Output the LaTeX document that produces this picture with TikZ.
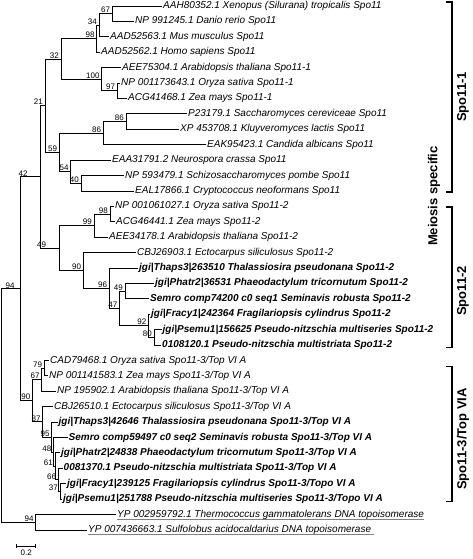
\documentclass[tikz,border=0pt]{standalone}
\usepackage{fontspec}
\setmainfont{Liberation Sans}
\usetikzlibrary{calc}

\tikzset{
  branch/.style={line width=0.8pt},
  leaf/.style={anchor=west, inner sep=1pt, font=\fontsize{10}{12}\selectfont\itshape},
  diatom/.style={leaf, font=\fontsize{10}{12}\selectfont\bfseries\itshape},
  boot/.style={anchor=south east, inner sep=0.5pt, xshift=-1.5pt, font=\fontsize{8}{9}\selectfont},
  clade/.style={rotate=90, inner sep=0pt, font=\fontsize{13}{15}\selectfont\bfseries},
  bracket/.style={line width=1.1pt},
}

\begin{document}
\begin{tikzpicture}[x=1pt, y=-1pt]
    \useasboundingbox (0,0) rectangle (473,559);

    % leaves
    \node[leaf] (l0) at (162, 6.00) {AAH80352.1 Xenopus (Silurana) tropicalis Spo11};
    \node[leaf] (l1) at (134, 21.41) {NP 991245.1 Danio rerio Spo11};
    \node[leaf] (l2) at (109, 36.82) {AAD52563.1 Mus musculus Spo11};
    \node[leaf] (l3) at (100, 52.23) {AAD52562.1 Homo sapiens Spo11};
    \node[leaf] (l4) at (121, 67.64) {AEE75304.1 Arabidopsis thaliana Spo11-1};
    \node[leaf] (l5) at (120, 83.05) {NP 001173643.1 Oryza sativa Spo11-1};
    \node[leaf] (l6) at (127, 98.46) {ACG41468.1 Zea mays Spo11-1};
    \node[leaf] (l7) at (187, 113.87) {P23179.1 Saccharomyces cereviceae Spo11};
    \node[leaf] (l8) at (179, 129.28) {XP 453708.1 Kluyveromyces lactis Spo11};
    \node[leaf] (l9) at (206, 144.69) {EAK95423.1 Candida albicans Spo11};
    \node[leaf] (l10) at (111, 160.10) {EAA31791.2 Neurospora crassa Spo11};
    \node[leaf] (l11) at (124, 175.51) {NP 593479.1 Schizosaccharomyces pombe Spo11};
    \node[leaf] (l12) at (134, 190.92) {EAL17866.1 Cryptococcus neoformans Spo11};
    \node[leaf] (l13) at (114, 206.33) {NP 001061027.1 Oryza sativa Spo11-2};
    \node[leaf] (l14) at (115, 221.74) {ACG46441.1 Zea mays Spo11-2};
    \node[leaf] (l15) at (108, 237.15) {AEE34178.1 Arabidopsis thaliana Spo11-2};
    \node[leaf] (l16) at (136, 252.56) {CBJ26903.1 Ectocarpus siliculosus Spo11-2};
    \node[diatom] (l17) at (138, 267.97) {jgi|Thaps3|263510 Thalassiosira pseudonana Spo11-2};
    \node[diatom] (l18) at (154, 283.38) {jgi|Phatr2|36531 Phaeodactylum tricornutum Spo11-2};
    \node[diatom] (l19) at (149, 298.79) {Semro comp74200 c0 seq1 Seminavis robusta Spo11-2};
    \node[diatom] (l20) at (150, 314.20) {jgi|Fracy1|242364 Fragilariopsis cylindrus Spo11-2};
    \node[diatom] (l21) at (161.5, 329.61) {jgi|Psemu1|156625 Pseudo-nitzschia multiseries Spo11-2};
    \node[diatom] (l22) at (161, 345.02) {0108120.1 Pseudo-nitzschia multistriata Spo11-2};
    \node[leaf] (l23) at (49, 360.43) {CAD79468.1 Oryza sativa Spo11-3/Top VI A};
    \node[leaf] (l24) at (48, 375.84) {NP 001141583.1 Zea mays Spo11-3/Top VI A};
    \node[leaf] (l25) at (56, 391.25) {NP 195902.1 Arabidopsis thaliana Spo11-3/Top VI A};
    \node[leaf] (l26) at (53, 406.66) {CBJ26510.1 Ectocarpus siliculosus Spo11-3/Top VI A};
    \node[diatom] (l27) at (57.5, 422.07) {jgi|Thaps3|42646 Thalassiosira pseudonana Spo11-3/Top VI A};
    \node[diatom] (l28) at (67.5, 437.48) {Semro comp59497 c0 seq2 Seminavis robusta Spo11-3/Top VI A};
    \node[diatom] (l29) at (60, 452.89) {jgi|Phatr2|24838 Phaeodactylum tricornutum Spo11-3/Top VI A};
    \node[diatom] (l30) at (62.5, 468.30) {0081370.1 Pseudo-nitzschia multistriata Spo11-3/Top VI A};
    \node[diatom] (l31) at (66, 483.71) {jgi|Fracy1|239125 Fragilariopsis cylindrus Spo11-3/Topo VI A};
    \node[diatom] (l32) at (62, 499.12) {jgi|Psemu1|251788 Pseudo-nitzschia multiseries Spo11-3/Topo VI A};
    \node[leaf] (l33) at (116, 514.53) {YP 002959792.1 Thermococcus gammatolerans DNA topoisomerase};
    \node[leaf] (l34) at (87, 529.94) {YP 007436663.1 Sulfolobus acidocaldarius DNA topoisomerase};

    % internal nodes
    \coordinate (root) at (1.5, 405.52);
    \coordinate (nA) at (20.7, 288.80);
    \coordinate (nO) at (35.7, 522.24);
    \coordinate (n42) at (40.7, 176.84);
    \coordinate (n21) at (45, 105.69);
    \coordinate (n32) at (61, 58.98);
    \coordinate (n98) at (96.7, 38.75);
    \coordinate (n34) at (99, 25.26);
    \coordinate (n67) at (112.3, 13.70);
    \coordinate (n100) at (101.7, 79.20);
    \coordinate (n97) at (117.3, 90.76);
    \coordinate (n59) at (59.3, 152.40);
    \coordinate (n86a) at (103.3, 133.13);
    \coordinate (n86b) at (126, 121.58);
    \coordinate (n54) at (70.7, 171.66);
    \coordinate (n40) at (81, 183.22);
    \coordinate (n49) at (59.3, 247.99);
    \coordinate (n99) at (94, 225.60);
    \coordinate (n98b) at (110, 214.04);
    \coordinate (n90b) at (83.3, 270.38);
    \coordinate (n96) at (109.3, 288.20);
    \coordinate (n47) at (119.5, 308.43);
    \coordinate (n49b) at (125, 291.09);
    \coordinate (n92) at (148.5, 325.76);
    \coordinate (n80) at (154, 337.32);
    \coordinate (n90c) at (32.5, 400.77);
    \coordinate (n67b) at (41.7, 379.70);
    \coordinate (n79) at (44.3, 368.14);
    \coordinate (n87) at (42.7, 421.83);
    \coordinate (n95) at (51.7, 437.00);
    \coordinate (n48) at (53.5, 451.93);
    \coordinate (n61) at (55, 466.38);
    \coordinate (n66) at (58.3, 479.86);
    \coordinate (n37) at (60, 491.42);

    % branches
    \foreach \p/\c in {root/nA, root/nO, nA/n42, nA/n90c, n42/n21, n42/n49,
        n21/n32, n21/n59, n32/n98, n32/n100, n98/n34, n98/l3.west,
        n34/n67, n34/l2.west, n67/l0.west, n67/l1.west,
        n100/l4.west, n100/n97, n97/l5.west, n97/l6.west,
        n59/n86a, n59/n54, n86a/n86b, n86a/l9.west, n86b/l7.west, n86b/l8.west,
        n54/l10.west, n54/n40, n40/l11.west, n40/l12.west,
        n49/n99, n49/n90b, n99/n98b, n99/l15.west, n98b/l13.west, n98b/l14.west,
        n90b/l16.west, n90b/n96, n96/l17.west, n96/n47,
        n47/n49b, n47/n92, n49b/l18.west, n49b/l19.west,
        n92/l20.west, n92/n80, n80/l21.west, n80/l22.west,
        n90c/n67b, n90c/n87, n67b/n79, n67b/l25.west, n79/l23.west, n79/l24.west,
        n87/l26.west, n87/n95, n95/l27.west, n95/n48, n48/l28.west, n48/n61,
        n61/l29.west, n61/n66, n66/l30.west, n66/n37, n37/l31.west, n37/l32.west,
        nO/l33.west, nO/l34.west}
        \draw[branch] (\p) |- (\c);

    % bootstrap values
    \foreach \n/\v in {nO/94, n90c/90, n21/21, n32/32, n98/98, n34/34, n67/67,
        n100/100, n97/97, n59/59, n86a/86, n86b/86, n54/54, n40/40,
        n99/99, n98b/98, n90b/90, n96/96, n47/47, n49b/49, n92/92, n80/80,
        n67b/67, n79/79, n87/87, n95/95, n48/48, n61/61, n66/66, n37/37}
        \node[boot] (b\n) at (\n) {\v};
    \node[boot, xshift=-4pt] (bnA) at (nA) {94};
    \node[boot, xshift=-11pt] (bn42) at (n42) {42};
    \node[boot, xshift=-11pt] (bn49) at (n49) {49};

    % outgroup underlines
    \draw[gray, line width=1pt] ([shift={(1pt,-2.2pt)}]l33.base west) -- ([shift={(-1pt,-2.2pt)}]l33.base east);
    \draw[gray, line width=1pt] ([shift={(1pt,-2.2pt)}]l34.base west) -- ([shift={(2pt,-2.2pt)}]l34.base east);

    % clade brackets
    \draw[bracket] (446,2) -- (452,2) -- (452,192) -- (446,192);
    \draw[bracket] (446,207) -- (452,207) -- (452,347.5) -- (446,347.5);
    \draw[bracket] (446,366.5) -- (452,366.5) -- (452,501.5) -- (446,501.5);
    \node[clade] (spo1) at (463,97) {Spo11-1};
    \node[clade] (spo2) at (463,291) {Spo11-2};
    \node[clade] (spo3) at (463,439) {Spo11-3/Top VIA};
    \node[clade] (meio) at (434,196) {Meiosis specific};

    % scale bar
    \coordinate (sbl) at (16.7,546);
    \coordinate (sbr) at (35.7,546);
    \draw[branch] (sbl) -- (sbr);
    \draw[branch] ([yshift=-1.5pt]sbl) -- ([yshift=2pt]sbl);
    \draw[branch] ([yshift=-1.5pt]sbr) -- ([yshift=2pt]sbr);
    \node[font=\fontsize{8}{9}\selectfont, anchor=north, inner sep=1pt] (sbtxt) at ($(sbl)!0.5!(sbr)+(0,3)$) {0.2};
\end{tikzpicture}
\end{document}
